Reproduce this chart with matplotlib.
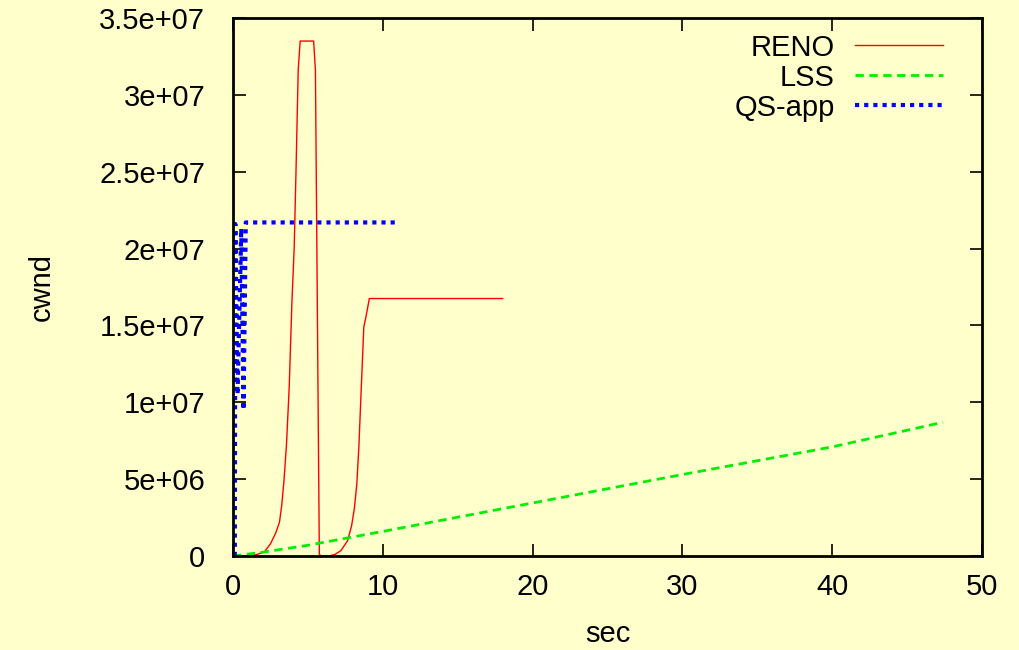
import matplotlib
matplotlib.use("Agg")
import matplotlib.pyplot as plt
from matplotlib.ticker import FuncFormatter, MultipleLocator

# RENO: две фазы slow start, спад и плато (значения в 1e6)
reno_t = [0.0, 1.0, 1.6, 2.1, 2.5, 2.85, 3.1, 3.25, 3.4, 3.57, 3.75, 3.93, 4.08, 4.2, 4.35, 4.48,
          5.38, 5.5, 5.76, 5.9, 6.4, 6.8, 7.2, 7.65, 7.92, 8.1, 8.26, 8.4, 8.55, 8.73, 8.88, 9.1, 18.0]
reno_w = [0.0, 0.0, 0.1, 0.28, 0.8, 1.5, 2.2, 3.3, 4.9, 7.3, 11.0, 16.5, 20.0, 24.9, 31.6, 33.5,
          33.5, 31.6, 0.1, 0.0, 0.0, 0.1, 0.35, 1.0, 2.0, 3.1, 4.65, 7.1, 10.7, 14.9, 15.6, 16.75, 16.75]

# LSS: почти линейный рост
lss_t = [0.0, 2.0, 5.0, 10.0, 20.0, 30.0, 40.0, 47.4]
lss_w = [0.0, 0.25, 0.7, 1.6, 3.45, 5.3, 7.1, 8.7]

# QS-app: быстрый скачок, колебания и плато
qs_t = [0.12, 0.15, 0.3, 0.55, 0.7, 0.85, 11.0]
qs_w = [0.0, 21.6, 10.5, 21.3, 9.5, 21.7, 21.7]

BG = "#ffffcc"
plt.rcParams["font.family"] = ["Liberation Sans", "DejaVu Sans"]
plt.rcParams["font.size"] = 21

fig = plt.figure(figsize=(10.19, 6.5), dpi=100, facecolor=BG)
ax = fig.add_axes([0.2287, 0.1446, 0.9637 - 0.2287, 0.9723 - 0.1446], facecolor=BG)

ax.plot(reno_t, [v * 1e6 for v in reno_w], color="#ff0000", lw=1.0, label="RENO")
ax.plot(lss_t, [v * 1e6 for v in lss_w], color="#00ee00", lw=2.0, ls=(0, (3, 2)), label="LSS")
ax.plot(qs_t, [v * 1e6 for v in qs_w], color="#0000ff", lw=3.0, ls=(0, (1, 1.2)), label="QS-app")

ax.set_xlim(0, 50)
ax.set_ylim(0, 3.5e7)
ax.xaxis.set_major_locator(MultipleLocator(10))
ax.yaxis.set_major_locator(MultipleLocator(5e6))
ax.yaxis.set_major_formatter(FuncFormatter(lambda v, p: "%g" % v))
ax.tick_params(direction="in", length=9, width=1.2, top=True, right=True, pad=12)
ax.tick_params(axis="y", pad=20)
for s in ax.spines.values():
    s.set_linewidth(2.0)

ax.set_xlabel("sec", labelpad=14)
ax.set_ylabel("cwnd", labelpad=31)

ax.legend(loc="upper right", bbox_to_anchor=(0.975, 1.009), frameon=False, markerfirst=False,
          handlelength=3.0, borderaxespad=0.3, labelspacing=0.07, handletextpad=0.7)

plt.savefig("out.png", dpi=100, facecolor=BG)
plt.close()
